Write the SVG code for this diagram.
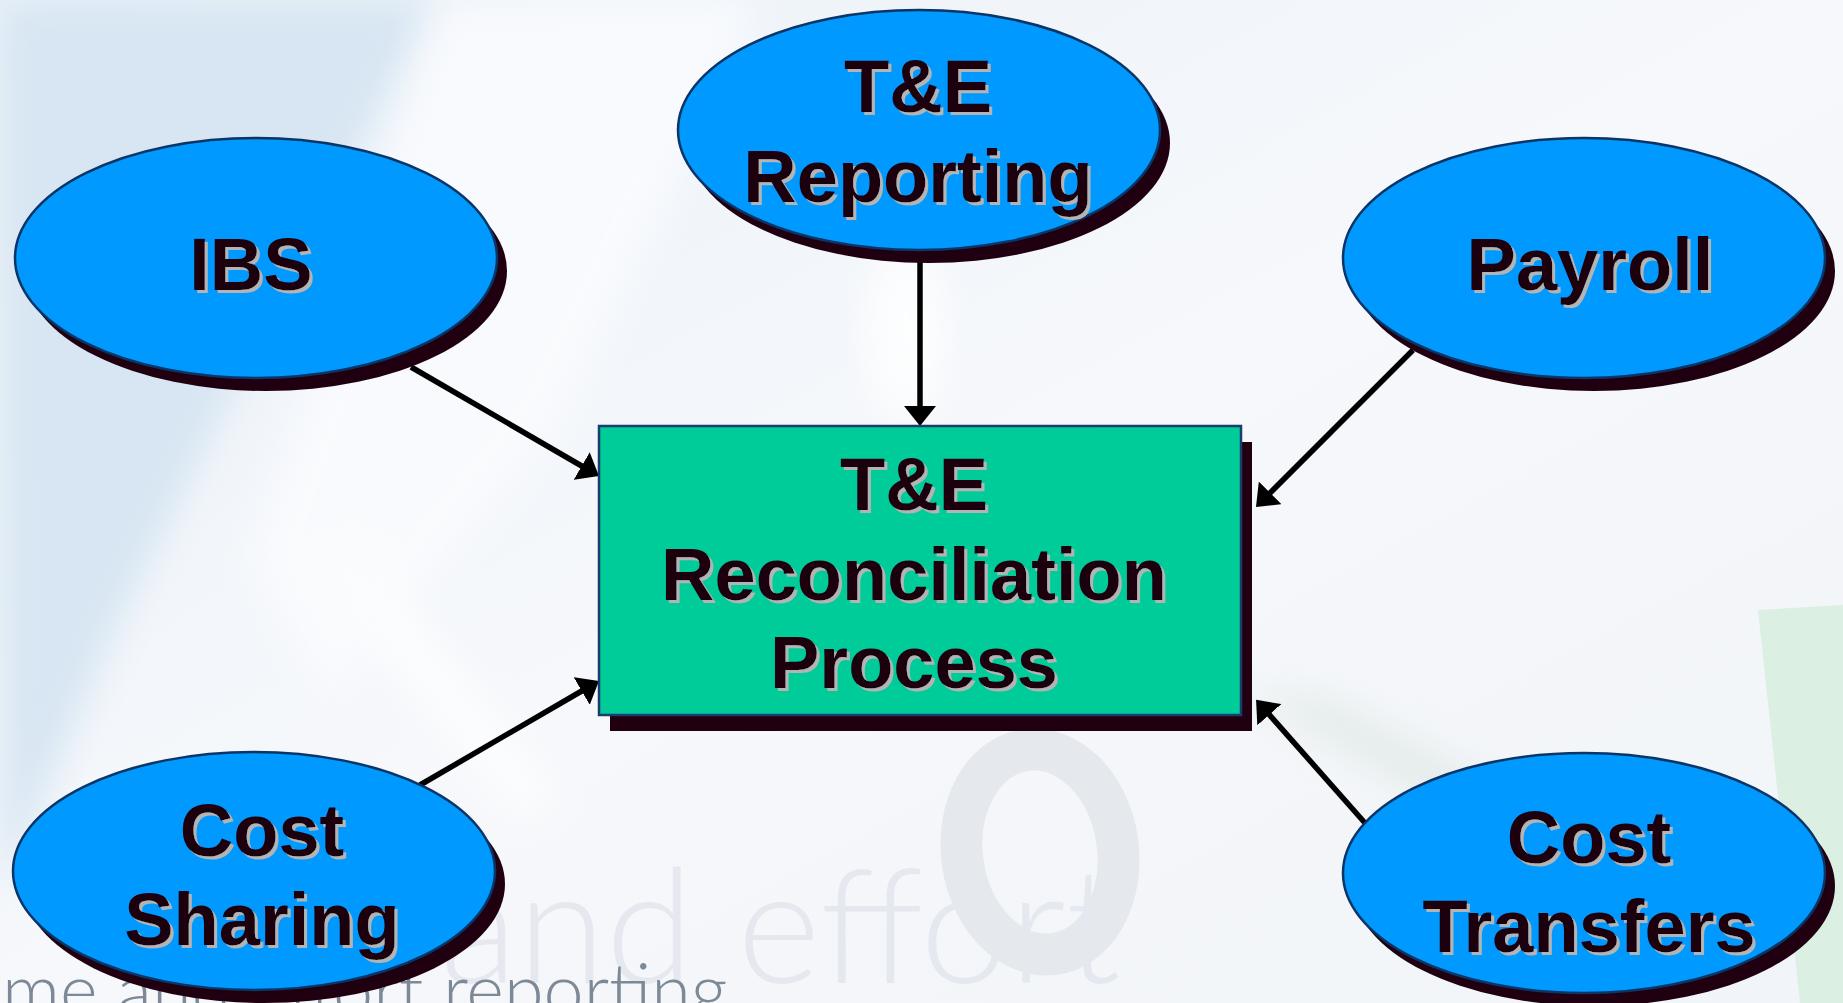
<svg xmlns="http://www.w3.org/2000/svg" width="1843" height="1003" viewBox="0 0 1843 1003">
  <defs>
    <style>
      .lbl { font-family: "Liberation Sans", Arial, sans-serif; font-weight: bold; font-size: 74px; fill: #1e0010; text-anchor: middle; filter: url(#txtShadow); }
      .oval { fill: #0099ff; stroke: #0a3566; stroke-width: 2.5; }
      .drop { fill: #200010; }
      .box { fill: #00cc99; stroke: #1a3d6e; stroke-width: 2.5; }
      .link { fill: none; stroke: #000; stroke-width: 5.5; marker-end: url(#head); }
      .wm { font-family: Lato, "Open Sans", "Liberation Sans", sans-serif; font-weight: 300; }
    </style>
    <filter id="txtShadow" x="-5%" y="-10%" width="115%" height="130%">
      <feOffset in="SourceAlpha" dx="3" dy="3" result="off"/>
      <feFlood flood-color="#b4b4b4"/>
      <feComposite in2="off" operator="in" result="sh"/>
      <feMerge>
        <feMergeNode in="sh"/>
        <feMergeNode in="SourceGraphic"/>
      </feMerge>
    </filter>
    <filter id="soft" x="-20%" y="-20%" width="140%" height="140%">
      <feGaussianBlur stdDeviation="18"/>
    </filter>
    <linearGradient id="bgGrad" x1="0" y1="0" x2="1" y2="1">
      <stop offset="0" stop-color="#eaf1f8"/>
      <stop offset="0.5" stop-color="#f6f8fb"/>
      <stop offset="1" stop-color="#f1f4f8"/>
    </linearGradient>
    <marker id="head" markerUnits="userSpaceOnUse" viewBox="0 0 20 32" markerWidth="20" markerHeight="32" refX="5" refY="16" orient="auto">
      <path d="M0,0 L20,16 L0,32 z" fill="#000"/>
    </marker>
  </defs>

  <!-- backdrop -->
  <g id="backdrop">
    <rect width="1843" height="1003" fill="url(#bgGrad)"/>
    <polygon points="0,0 440,0 300,260 120,620 0,900" fill="#d8e6f3" filter="url(#soft)"/>
    <polygon points="300,560 360,540 560,800 520,820" fill="#ffffff" opacity="0.7" filter="url(#soft)"/>
    <polygon points="440,0 760,0 560,420 330,700 250,560" fill="#fbfcfe" opacity="0.8" filter="url(#soft)"/>
    <ellipse cx="905" cy="330" rx="40" ry="90" fill="#ffffff" opacity="0.8" filter="url(#soft)"/>
    <polygon points="1240,690 1330,700 1560,820 1500,840" fill="#dfe8e4" opacity="0.8" filter="url(#soft)"/>
    <polygon points="1758,610 1843,605 1843,1003 1800,1003" fill="#dcefe3"/>
    <ellipse cx="1040" cy="852" rx="78" ry="103" fill="none" stroke="#e5e8ed" stroke-width="42" transform="rotate(-8 1040 852)"/>
    <text class="wm" x="440" y="983" font-size="160" fill="#e5e9ef">and effort</text>
    <text class="wm" x="2" y="1016" font-size="72" fill="#7d8996">me and effort reporting</text>
  </g>

  <!-- connectors -->
  <g id="connectors">
    <path class="link" d="M920,250 L920,411"/>
    <path class="link" d="M411,367 L586,468.5"/>
    <path class="link" d="M1413,350 L1266.6,496.4"/>
    <path class="link" d="M420,785 L586,688.5"/>
    <path class="link" d="M1365,823 L1266,711"/>
  </g>

  <!-- central process -->
  <g id="node-reconciliation">
    <rect class="drop" x="610" y="442" width="642" height="289"/>
    <rect class="box" x="599" y="426" width="642" height="289"/>
    <text class="lbl" x="914" y="510">T&amp;E</text>
    <text class="lbl" x="914" y="600">Reconciliation</text>
    <text class="lbl" x="914" y="688">Process</text>
  </g>

  <!-- sources -->
  <g id="node-te-reporting">
    <ellipse class="drop" cx="929" cy="143" rx="241" ry="120"/>
    <ellipse class="oval" cx="919" cy="130" rx="241" ry="120"/>
    <text class="lbl" x="918" y="112">T&amp;E</text>
    <text class="lbl" x="918" y="202">Reporting</text>
  </g>

  <g id="node-ibs">
    <ellipse class="drop" cx="266" cy="271" rx="241" ry="120"/>
    <ellipse class="oval" cx="256" cy="258" rx="241" ry="120"/>
    <text class="lbl" x="251" y="290">IBS</text>
  </g>

  <g id="node-payroll">
    <ellipse class="drop" cx="1594" cy="271" rx="241" ry="120"/>
    <ellipse class="oval" cx="1584" cy="258" rx="241" ry="120"/>
    <text class="lbl" x="1590" y="290">Payroll</text>
  </g>

  <g id="node-cost-sharing">
    <ellipse class="drop" cx="264" cy="884" rx="241" ry="119"/>
    <ellipse class="oval" cx="254" cy="871" rx="241" ry="119"/>
    <text class="lbl" x="262" y="856">Cost</text>
    <text class="lbl" x="262" y="945">Sharing</text>
  </g>

  <g id="node-cost-transfers">
    <ellipse class="drop" cx="1594" cy="886" rx="241" ry="120"/>
    <ellipse class="oval" cx="1584" cy="873" rx="241" ry="120"/>
    <text class="lbl" x="1589" y="863">Cost</text>
    <text class="lbl" x="1589" y="952">Transfers</text>
  </g>
</svg>
